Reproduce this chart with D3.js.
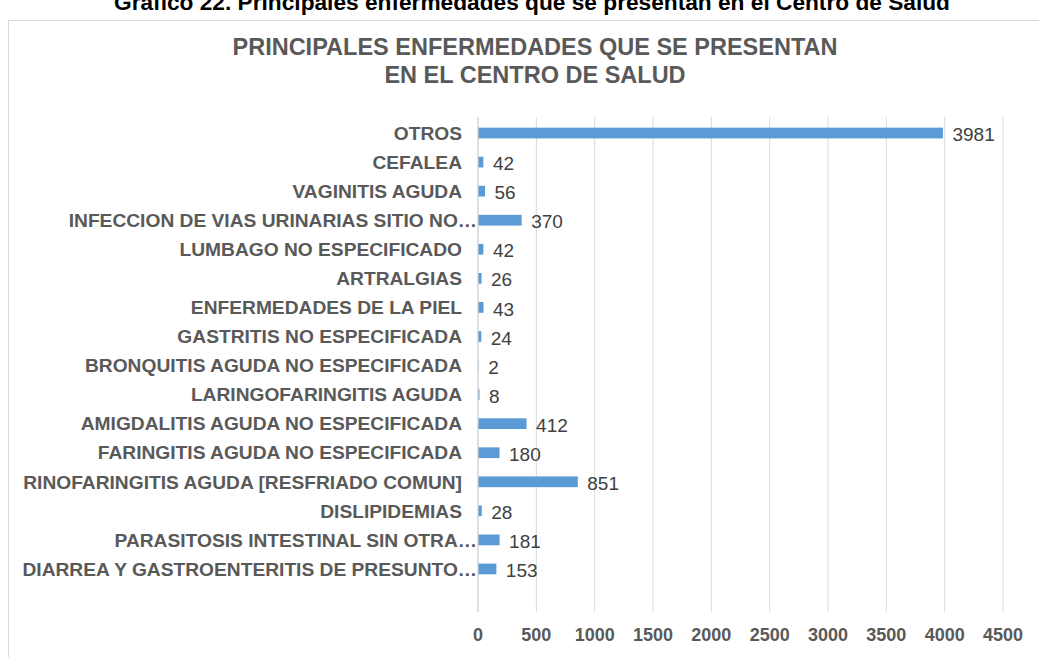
<!DOCTYPE html>
<html><head><meta charset="utf-8">
<script src="https://cdn.jsdelivr.net/npm/d3@7"></script>
<style>body{margin:0;background:#fff;}svg{display:block;font-family:"Liberation Sans",Arial,sans-serif;}</style>
</head><body>
<svg id="c" width="1039" height="657"></svg>
<script>
const categories = ["OTROS","CEFALEA","VAGINITIS AGUDA","INFECCION DE VIAS URINARIAS SITIO NO…","LUMBAGO NO ESPECIFICADO","ARTRALGIAS","ENFERMEDADES DE LA PIEL","GASTRITIS NO ESPECIFICADA","BRONQUITIS AGUDA NO ESPECIFICADA","LARINGOFARINGITIS AGUDA","AMIGDALITIS AGUDA NO ESPECIFICADA","FARINGITIS AGUDA NO ESPECIFICADA","RINOFARINGITIS AGUDA [RESFRIADO COMUN]","DISLIPIDEMIAS","PARASITOSIS INTESTINAL SIN OTRA…","DIARREA Y GASTROENTERITIS DE PRESUNTO…"];
const values = [3981,42,56,370,42,26,43,24,2,8,412,180,851,28,181,153];
const ticks = [0,500,1000,1500,2000,2500,3000,3500,4000,4500];
const caption = "Gráfico 22. Principales enfermedades que se presentan en el Centro de Salud";
const titleLines = ["PRINCIPALES ENFERMEDADES QUE SE PRESENTAN","EN EL CENTRO DE SALUD"];

const svg = d3.select("#c");
const x = d3.scaleLinear().domain([0,4500]).range([478,1003]);
const y = d3.scaleBand().domain(categories).range([118.5,583.5]).paddingInner(0.63).paddingOuter(0.315);
const plotTop = 117, plotBottom = 612;

// caption (cut off at top)
svg.append("text").attr("x",532).attr("y",10).attr("text-anchor","middle")
  .attr("font-weight","bold").attr("font-size",22.7).attr("fill","#000").text(caption);

// chart border
svg.append("rect").attr("x",8.5).attr("y",20.5).attr("width",1040).attr("height",660)
  .attr("fill","none").attr("stroke","#d9d9d9");

// title
svg.selectAll("text.title").data(titleLines).join("text").attr("class","title")
  .attr("x",535).attr("y",(d,i)=>54.5+i*28).attr("text-anchor","middle")
  .attr("font-weight","bold").attr("font-size",23.5).attr("fill","#595959").text(d=>d);

// gridlines
svg.append("g").selectAll("line").data(ticks).join("line")
  .attr("x1",d=>x(d)).attr("x2",d=>x(d)).attr("y1",plotTop).attr("y2",plotBottom)
  .attr("stroke",(d)=>d===0?"#bfbfbf":"#d9d9d9").attr("stroke-width",1);

// x tick labels
svg.append("g").selectAll("text").data(ticks).join("text")
  .attr("x",d=>x(d)).attr("y",640.5).attr("text-anchor","middle")
  .attr("font-weight","bold").attr("font-size",18).attr("fill","#595959").text(d=>d);

// bars
svg.append("g").selectAll("rect").data(categories).join("rect")
  .attr("x",x(0)+0.5).attr("y",d=>y(d)).attr("height",y.bandwidth())
  .attr("width",(d,i)=>Math.max(0,x(values[i])-x(0)))
  .attr("fill","#5b9bd5");

// category labels (truncated labels run up to the axis, as in the original)
svg.append("g").selectAll("text").data(categories).join("text")
  .attr("x",d=>d.endsWith("…")?477:462).attr("y",d=>y(d)+y.bandwidth()/2).attr("dy","0.35em")
  .attr("text-anchor","end").attr("font-weight","bold").attr("font-size",19.2)
  .attr("fill","#595959").text(d=>d);

// value labels
svg.append("g").selectAll("text").data(categories).join("text")
  .attr("x",(d,i)=>x(values[i])+10).attr("y",d=>y(d)+y.bandwidth()/2+1.5).attr("dy","0.35em")
  .attr("font-size",19).attr("fill","#404040").text((d,i)=>values[i]);
</script>
</body></html>
